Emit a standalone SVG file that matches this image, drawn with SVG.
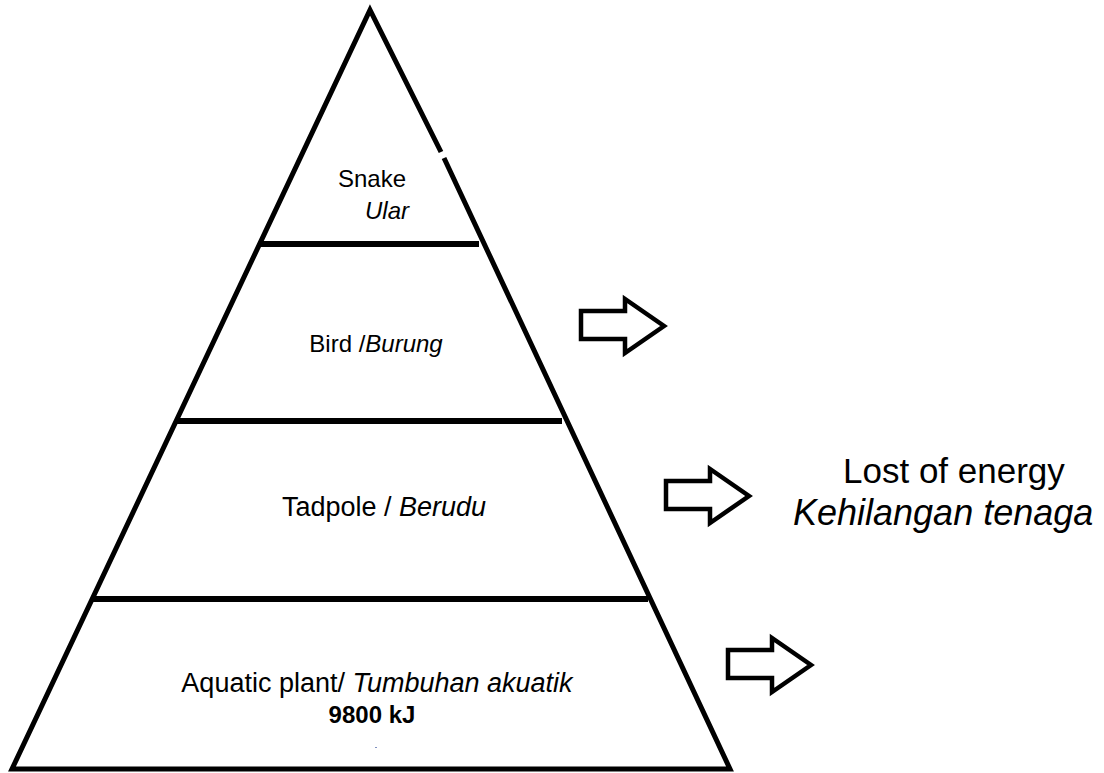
<svg xmlns="http://www.w3.org/2000/svg" width="1104" height="773" viewBox="0 0 1104 773">
<style>
.ln{fill:none;stroke:#000;stroke-width:5;stroke-linejoin:miter}
.tier{stroke:#000;stroke-width:6}
.arr{fill:#fff;stroke:#000;stroke-width:4.5;stroke-linejoin:miter}
.lbl{font-family:"Liberation Sans",Arial,sans-serif;font-size:24px;fill:#000;text-anchor:middle}
.lg{font-size:27px}
.it{font-style:italic}
.bd{font-weight:bold}
.big{font-family:"Liberation Sans",Arial,sans-serif;font-size:35px;fill:#000}
.big2{font-size:36px}
</style>
<defs>
<path id="arrow" d="M0,12 H44 V0 L83,27 L44,54 V40 H0 Z"/>
</defs>
<rect width="1104" height="773" fill="#fff"/>
<g id="pyramid">
<path class="ln" d="M441,152 L370,10 L12,769 L730,769 L444,158"/>
</g>
<g id="tiers">
<line class="tier" x1="260" y1="244" x2="479" y2="244"/>
<line class="tier" x1="177" y1="421" x2="562" y2="421"/>
<line class="tier" x1="93" y1="599" x2="648" y2="599"/>
</g>
<g id="level-snake">
<text class="lbl" x="372" y="187">Snake</text>
<text class="lbl it" x="387" y="219">Ular</text>
</g>
<g id="level-bird">
<text class="lbl" x="376" y="352">Bird /<tspan class="it">Burung</tspan></text>
</g>
<g id="level-tadpole">
<text class="lbl lg" x="384" y="516">Tadpole / <tspan class="it">Berudu</tspan></text>
</g>
<g id="level-plant">
<text class="lbl lg" x="377" y="692">Aquatic plant/ <tspan class="it">Tumbuhan akuatik</tspan></text>
<text class="lbl bd" x="372" y="723">9800 kJ</text>
<rect x="375" y="747" width="2" height="1" fill="#8090c0"/>
</g>
<g id="connectors">
<use href="#arrow" class="arr" x="581" y="299"/>
<use href="#arrow" class="arr" x="666" y="469"/>
<use href="#arrow" class="arr" x="728" y="638"/>
</g>
<g id="energy-loss">
<text class="big" x="843" y="483">Lost of energy</text>
<text class="big big2 it" x="793" y="525">Kehilangan tenaga</text>
</g>
</svg>
